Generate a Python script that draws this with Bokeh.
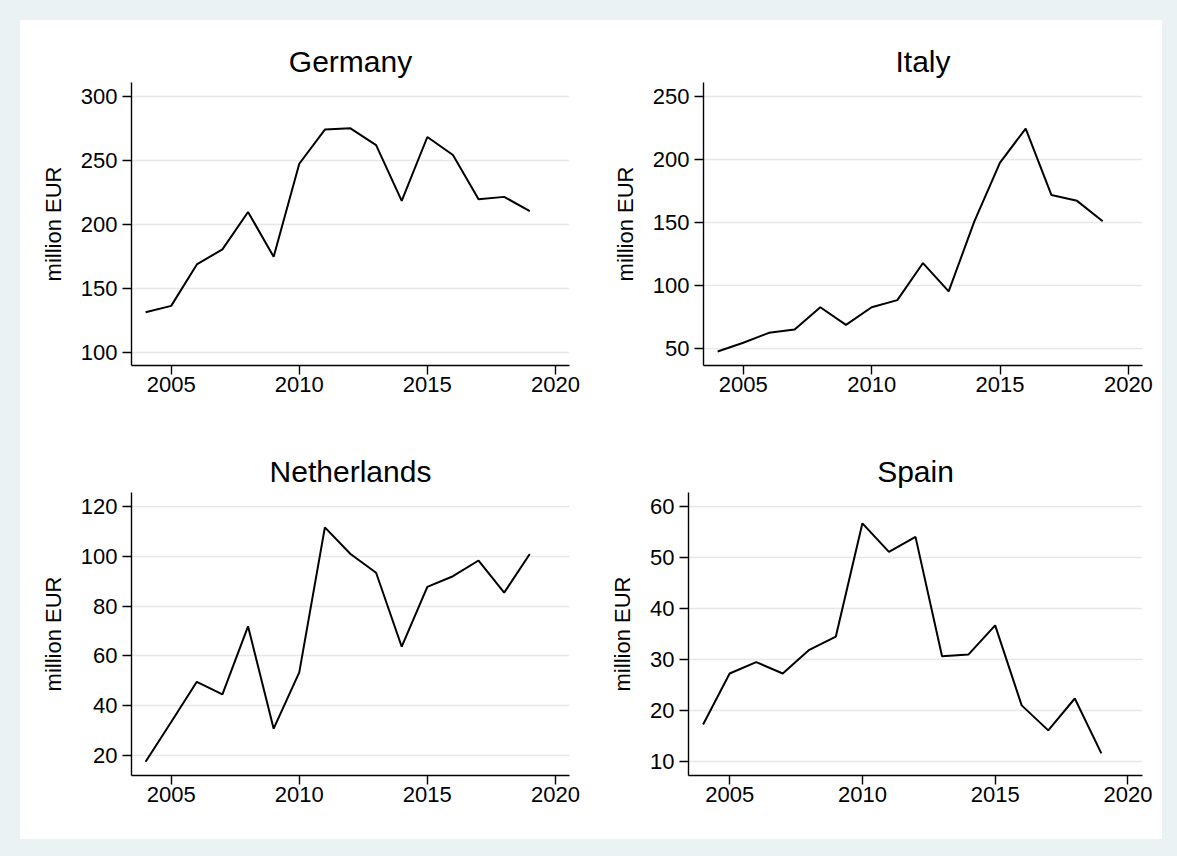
from bokeh.plotting import figure
from bokeh.layouts import row, column
from bokeh.models import Spacer, FixedTicker, Range1d, GlobalInlineStyleSheet
from bokeh.embed import file_html
from bokeh.resources import INLINE

years = list(range(2004, 2020))

germany = [131.1, 136.1, 168.5, 180.3, 209.5, 174.5, 247.2, 273.9, 274.9, 261.8,
           218.2, 268.1, 254.0, 219.5, 221.3, 210.1]
italy = [47.9, 54.8, 62.7, 65.3, 83.0, 69.0, 83.0, 88.6, 118.0, 95.5,
         151.0, 197.6, 224.6, 172.0, 167.3, 151.1]
netherlands = [17.5, 33.5, 49.6, 44.6, 71.9, 30.8, 53.4, 111.6, 100.9, 93.4,
               63.7, 87.7, 92.0, 98.3, 85.4, 100.9]
spain = [17.25, 27.25, 29.5, 27.25, 31.9, 34.5, 56.7, 51.1, 54.05, 30.65,
         31.0, 36.7, 21.0, 16.1, 22.35, 11.6]

titles = ["Germany", "Italy", "Netherlands", "Spain"]
y_ticks = [[100, 150, 200, 250, 300], [50, 100, 150, 200, 250],
           [20, 40, 60, 80, 100, 120], [10, 20, 30, 40, 50, 60]]
y_ranges = [(89.5, 310.7), (36.8, 261.1), (12.0, 125.6), (7.25, 62.75)]
x_ticks = [2005, 2010, 2015, 2020]
x_range = (2003.45, 2020.55)
y_label = "million EUR"

FONT = "Liberation Sans"
BG = "#EAF2F3"

# layout geometry: (width, height, left, right, top, bottom)
geom = [
    (570, 400, 111, 21, 62, 55),
    (572, 400, 113, 20, 62, 55),
    (570, 419, 111, 21, 72, 64),
    (572, 419, 98, 20, 72, 64),
]

series = [germany, italy, netherlands, spain]
figs = []
for i in range(4):
    w, h, bl, br, bt, bb = geom[i]
    p = figure(width=w, height=h, output_backend="svg", toolbar_location=None,
               x_range=Range1d(*x_range), y_range=Range1d(*y_ranges[i]),
               min_border_left=bl, min_border_right=br,
               min_border_top=bt, min_border_bottom=bb,
               title=titles[i])
    p.background_fill_color = "white"
    p.border_fill_color = "white"
    p.outline_line_color = None
    p.title.text_font = FONT
    p.title.text_font_size = "30px"
    p.title.text_font_style = "normal"
    p.title.text_color = "black"
    p.title.align = "center"
    p.title.standoff = 10

    p.line(years, series[i], line_color="black", line_width=2.0)

    p.xaxis.ticker = FixedTicker(ticks=x_ticks)
    p.yaxis.ticker = FixedTicker(ticks=y_ticks[i])
    for ax in (p.xaxis[0], p.yaxis[0]):
        ax.axis_line_color = "black"
        ax.axis_line_width = 1.4
        ax.major_tick_line_color = "black"
        ax.major_tick_line_width = 1.4
        ax.major_tick_in = 0
        ax.major_tick_out = 9
        ax.minor_tick_line_color = None
        ax.major_label_text_font = FONT
        ax.major_label_text_font_size = "22px"
        ax.major_label_text_color = "black"
    p.xaxis.major_label_standoff = 2
    p.yaxis.major_label_standoff = 5
    p.yaxis.axis_label = y_label
    p.yaxis.axis_label_text_font = FONT
    p.yaxis.axis_label_text_font_size = "22px"
    p.yaxis.axis_label_text_font_style = "normal"
    p.yaxis.axis_label_text_color = "black"
    p.yaxis.axis_label_standoff = 12

    p.xgrid.visible = False
    p.ygrid.grid_line_color = "#E4E8E8"
    p.ygrid.grid_line_width = 1.6
    figs.append(p)

grid = column(row(figs[0], figs[1]), row(figs[2], figs[3]),
              styles={"background-color": "white"})
root = column(Spacer(height=20), row(Spacer(width=20), grid),
              stylesheets=[GlobalInlineStyleSheet(css="html, body { background-color: %s; }" % BG)])

open("out.html", "w").write(file_html(root, INLINE))
